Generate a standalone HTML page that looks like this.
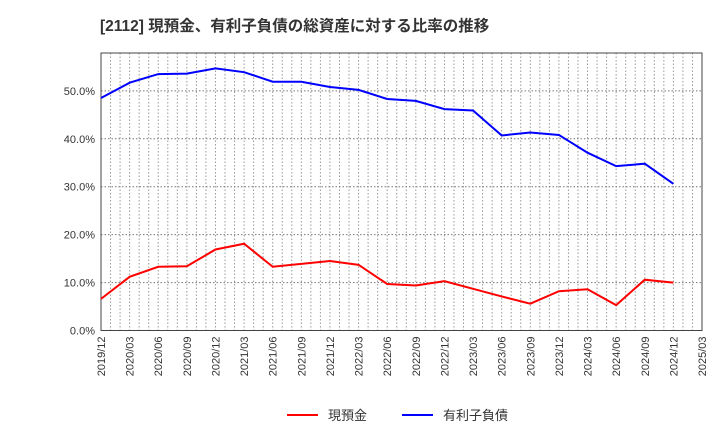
<!DOCTYPE html>
<html><head><meta charset="utf-8"><style>
body{margin:0;background:#fff;}
svg text{font-family:"Liberation Sans","Noto Sans CJK JP",sans-serif;}
</style></head><body>
<svg id="c" width="720" height="440" xmlns="http://www.w3.org/2000/svg">
<text x="100" y="31" font-size="15.5" font-weight="bold" fill="#333">[2112]  現預金、有利子負債の総資産に対する比率の推移</text>
<g id="grid"></g><g id="axes"></g><g id="series"></g>
<g>
<line x1="287" y1="415" x2="318" y2="415" stroke="#f00" stroke-width="2"/>
<text x="328" y="420" font-size="13" fill="#333">現預金</text>
<line x1="402" y1="415" x2="433" y2="415" stroke="#00f" stroke-width="2"/>
<text x="443" y="420" font-size="13" fill="#333">有利子負債</text>
</g>
</svg>
<script>
const categories=["2019/12","2020/03","2020/06","2020/09","2020/12","2021/03","2021/06","2021/09","2021/12","2022/03","2022/06","2022/09","2022/12","2023/03","2023/06","2023/09","2023/12","2024/03","2024/06","2024/09","2024/12","2025/03"];
const cashValues=[6.6,11.2,13.3,13.4,16.9,18.1,13.3,13.9,14.5,13.7,9.7,9.4,10.3,8.7,7.1,5.6,8.2,8.6,5.3,10.6,10.0];
const debtValues=[48.5,51.7,53.5,53.6,54.7,53.9,51.9,51.9,50.8,50.2,48.3,47.9,46.2,45.9,40.7,41.3,40.8,37.1,34.3,34.8,30.6];
const yTicks=[0,10,20,30,40,50];
const yTickLabels=["0.0%","10.0%","20.0%","30.0%","40.0%","50.0%"];
const L=101,R=702,T=53,B=330.5,YMAX=57.9;
const NS="http://www.w3.org/2000/svg";
const x=i=>L+(R-L)*i/(categories.length-1);
const y=v=>B-(B-T)*v/YMAX;
function mk(tag,attrs,parent){const e=document.createElementNS(NS,tag);for(const k in attrs)e.setAttribute(k,attrs[k]);parent.appendChild(e);return e;}
const grid=document.getElementById('grid'),axes=document.getElementById('axes'),series=document.getElementById('series');
const nMonths=(categories.length-1)*3;
for(let m=1;m<nMonths;m++){const xx=L+(R-L)*m/nMonths;const g=mk('line',{x1:xx,x2:xx,y1:T,y2:B,stroke:'#999','stroke-dasharray':'1.5,2','stroke-width':1},grid);

}
yTicks.forEach((v,i)=>{if(v>0){const g=mk('line',{x1:L,x2:R,y1:y(v),y2:y(v),stroke:'#777','stroke-dasharray':'1.5,2','stroke-width':1},grid);

}
const t=mk('text',{x:L-6,y:y(v)+4,'font-size':11,'text-anchor':'end',fill:'#333'},axes);t.textContent=yTickLabels[i];

});
categories.forEach((c,i)=>{const t=mk('text',{x:0,y:0,'font-size':11,'text-anchor':'end',fill:'#333',transform:`translate(${x(i)+4},${B+6}) rotate(-90)`},axes);t.textContent=c;

});
const fr=mk('rect',{x:L,y:T,width:R-L,height:B-T,fill:'none',stroke:'#444','stroke-width':1},axes);


const p1=mk('polyline',{points:cashValues.map((v,i)=>x(i)+','+y(v)).join(' '),fill:'none',stroke:'#f00','stroke-width':2},series);


const p2=mk('polyline',{points:debtValues.map((v,i)=>x(i)+','+y(v)).join(' '),fill:'none',stroke:'#00f','stroke-width':2},series);


</script>
</body></html>
